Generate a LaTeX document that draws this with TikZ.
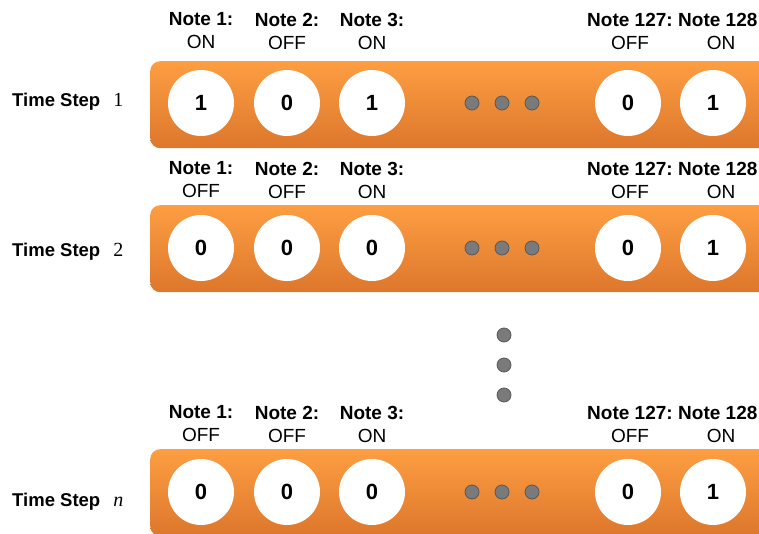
\documentclass[tikz,border=0pt]{standalone}
\usepackage{fontspec}
\setmainfont{Liberation Sans}
\newfontfamily\stepfont{Liberation Serif}
\usetikzlibrary{positioning}
\definecolor{barTop}{RGB}{253,158,66}
\definecolor{barBottom}{RGB}{221,119,44}
\definecolor{dotGray}{RGB}{122,122,122}
\definecolor{dotEdge}{RGB}{88,88,88}

\begin{document}
\begin{tikzpicture}[
    x=1pt, y=-1pt,
    bar/.style={rectangle, rounded corners=10pt, top color=barTop, bottom color=barBottom, minimum width=660pt, minimum height=87pt, inner sep=0pt, anchor=north west},
    bit/.style={circle, fill=white, minimum size=66pt, inner sep=0pt, font=\fontsize{22}{22}\selectfont\bfseries},
    notelabel/.style={align=center, inner sep=0pt, font=\fontsize{19}{23}\selectfont\bfseries},
    steplabel/.style={anchor=base west, inner sep=0pt, font=\fontsize{18.5}{22}\selectfont\bfseries},
    dot/.style={circle, fill=dotGray, draw=dotEdge, line width=0.8pt, minimum size=14pt, inner sep=0pt}
]
    \useasboundingbox (0,0) rectangle (759,534);
    \clip (0,0) rectangle (759,534);

    % Time step 1
    \node[bar] (R1) at (150,61) {};
    \node[steplabel] (T1) at (12,106.5) {Time Step\hspace{13pt}{\stepfont\fontsize{20}{22}\selectfont\mdseries 1}};
    \node[bit] (B1_1) at (201,103) {1};
    \node[bit] (B1_2) at (287,103) {0};
    \node[bit] (B1_3) at (372,103) {1};
    \node[bit] (B1_127) at (628,103) {0};
    \node[bit] (B1_128) at (713,103) {1};
    \node[notelabel] (L1_1) at (201,31) {Note 1:\\\mdseries ON};
    \node[notelabel] (L1_2) at (287,31) {Note 2:\\\mdseries OFF};
    \node[notelabel] (L1_3) at (372,31) {Note 3:\\\mdseries ON};
    \node[notelabel] (L1_127) at (630,31) {Note 127:\\\mdseries OFF};
    \node[notelabel] (L1_128) at (721,31) {Note 128:\\\mdseries ON};
    \node[dot] (D1_a) at (472,103) {};
    \node[dot] (D1_b) at (502,103) {};
    \node[dot] (D1_c) at (532,103) {};

    % Time step 2
    \node[bar] (R2) at (150,205) {};
    \node[steplabel] (T2) at (12,256.5) {Time Step\hspace{13pt}{\stepfont\fontsize{20}{22}\selectfont\mdseries 2}};
    \node[bit] (B2_1) at (201,248) {0};
    \node[bit] (B2_2) at (287,248) {0};
    \node[bit] (B2_3) at (372,248) {0};
    \node[bit] (B2_127) at (628,248) {0};
    \node[bit] (B2_128) at (713,248) {1};
    \node[notelabel] (L2_1) at (201,180) {Note 1:\\\mdseries OFF};
    \node[notelabel] (L2_2) at (287,180) {Note 2:\\\mdseries OFF};
    \node[notelabel] (L2_3) at (372,180) {Note 3:\\\mdseries ON};
    \node[notelabel] (L2_127) at (630,180) {Note 127:\\\mdseries OFF};
    \node[notelabel] (L2_128) at (721,180) {Note 128:\\\mdseries ON};
    \node[dot] (D2_a) at (472,248) {};
    \node[dot] (D2_b) at (502,248) {};
    \node[dot] (D2_c) at (532,248) {};

    % Skipped time steps
    \node[dot] (V_a) at (504,335) {};
    \node[dot] (V_b) at (504,365) {};
    \node[dot] (V_c) at (504,395) {};

    % Time step n
    \node[bar] (RN) at (150,449) {};
    \node[steplabel] (TN) at (12,506.5) {Time Step\hspace{13pt}{\stepfont\fontsize{20}{22}\selectfont\mdseries\itshape n}};
    \node[bit] (BN_1) at (201,492) {0};
    \node[bit] (BN_2) at (287,492) {0};
    \node[bit] (BN_3) at (372,492) {0};
    \node[bit] (BN_127) at (628,492) {0};
    \node[bit] (BN_128) at (713,492) {1};
    \node[notelabel] (LN_1) at (201,424) {Note 1:\\\mdseries OFF};
    \node[notelabel] (LN_2) at (287,424) {Note 2:\\\mdseries OFF};
    \node[notelabel] (LN_3) at (372,424) {Note 3:\\\mdseries ON};
    \node[notelabel] (LN_127) at (630,424) {Note 127:\\\mdseries OFF};
    \node[notelabel] (LN_128) at (721,424) {Note 128:\\\mdseries ON};
    \node[dot] (DN_a) at (472,492) {};
    \node[dot] (DN_b) at (502,492) {};
    \node[dot] (DN_c) at (532,492) {};

\end{tikzpicture}
\end{document}
